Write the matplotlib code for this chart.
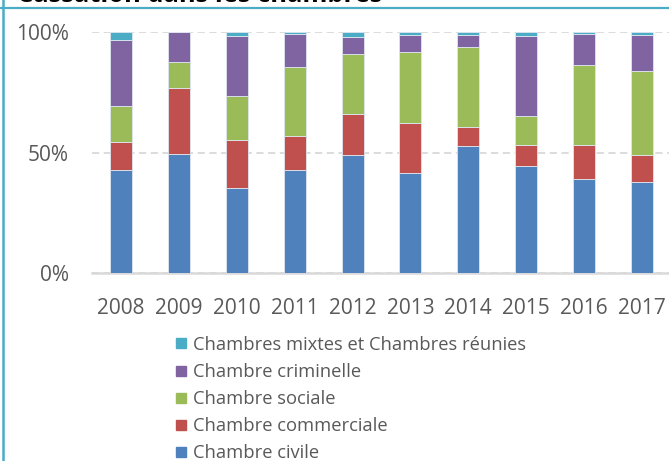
import numpy as np
import matplotlib
matplotlib.use("Agg")
import matplotlib.pyplot as plt
from matplotlib.lines import Line2D

years = ["2008", "2009", "2010", "2011", "2012", "2013", "2014", "2015", "2016", "2017"]

# shares (%) per chamber
civile = [42.7, 49.4, 35.3, 42.7, 49.0, 41.5, 53.0, 44.5, 39.0, 37.8]
commerciale = [11.7, 27.5, 19.9, 14.3, 17.0, 21.0, 7.9, 8.6, 14.3, 11.4]
sociale = [15.2, 10.7, 18.5, 28.8, 25.1, 29.5, 33.0, 12.2, 33.3, 34.6]
criminelle = [27.1, 12.4, 24.6, 13.4, 6.8, 7.0, 5.1, 33.3, 12.8, 15.0]
mixtes = [3.3, 0.0, 1.7, 0.8, 2.1, 1.0, 1.0, 1.4, 0.6, 1.2]

series = [
    ("Chambre civile", civile, "#4F81BD"),
    ("Chambre commerciale", commerciale, "#C0504D"),
    ("Chambre sociale", sociale, "#9BBB59"),
    ("Chambre criminelle", criminelle, "#8064A2"),
    ("Chambres mixtes et Chambres réunies", mixtes, "#4BACC6"),
]

plt.rcParams['font.family'] = ['Open Sans', 'DejaVu Sans']
TXT = "#595959"

W, H = 669, 461
fig = plt.figure(figsize=(W / 100, H / 100), dpi=100)

ax = fig.add_axes([92 / W, 1 - 273.3 / H, (671 - 92) / W, (273.3 - 32.3) / H])

x = np.arange(len(years))
tot = np.sum([s[1] for s in series], axis=0)
bottom = np.zeros(len(years))
handles = []
for name, vals, col in series:
    v = np.array(vals) / tot
    ax.bar(x, v, 0.38, bottom=bottom, color=col, edgecolor="#dfe6f0",
           linewidth=0.6, zorder=3)
    bottom += v
    handles.append(Line2D([], [], marker="s", ls="", color=col, markersize=6.8, label=name))

ax.set_xlim(-0.5, len(years) - 0.5)
ax.set_ylim(0, 1)
ax.set_yticks([0, 0.5, 1.0])
ax.set_yticklabels(["0%", "50%", "100%"])
ax.set_xticks(x)
ax.set_xticklabels(years)
ax.tick_params(axis="both", length=0, colors=TXT, labelsize=15)
ax.tick_params(axis="x", pad=17.5)
ax.tick_params(axis="y", pad=16.5)
for side in ["top", "right", "left"]:
    ax.spines[side].set_visible(False)
ax.spines["bottom"].set_color("#d9d9d9")
ax.spines["bottom"].set_linewidth(1.8)
ax.yaxis.grid(True, color="#d9d9d9", linestyle=(0, (4, 2.5)), linewidth=1.3, zorder=0)
ax.set_axisbelow(True)

leg = fig.legend(handles=handles[::-1], loc="upper left",
                 bbox_to_anchor=(164 / W, 1 - 328.5 / H), frameon=False,
                 fontsize=13.2, handletextpad=0.2, labelspacing=0.5,
                 handlelength=1.0, borderaxespad=0)
for t in leg.get_texts():
    t.set_color(TXT)

# frame lines and the clipped title
fig.add_artist(Line2D([0, 1], [1 - 8 / H, 1 - 8 / H], color="#4BACC6", lw=1.6))
fig.add_artist(Line2D([2.7 / W, 2.7 / W], [0, 1], color="#4BACC6", lw=1.8))
fig.text(17 / W, 1 - 2.0 / H, "Cassation dans les chambres", fontsize=18.4,
         fontweight="bold", color="black", va="baseline", ha="left")

fig.savefig("out.png", dpi=100)
